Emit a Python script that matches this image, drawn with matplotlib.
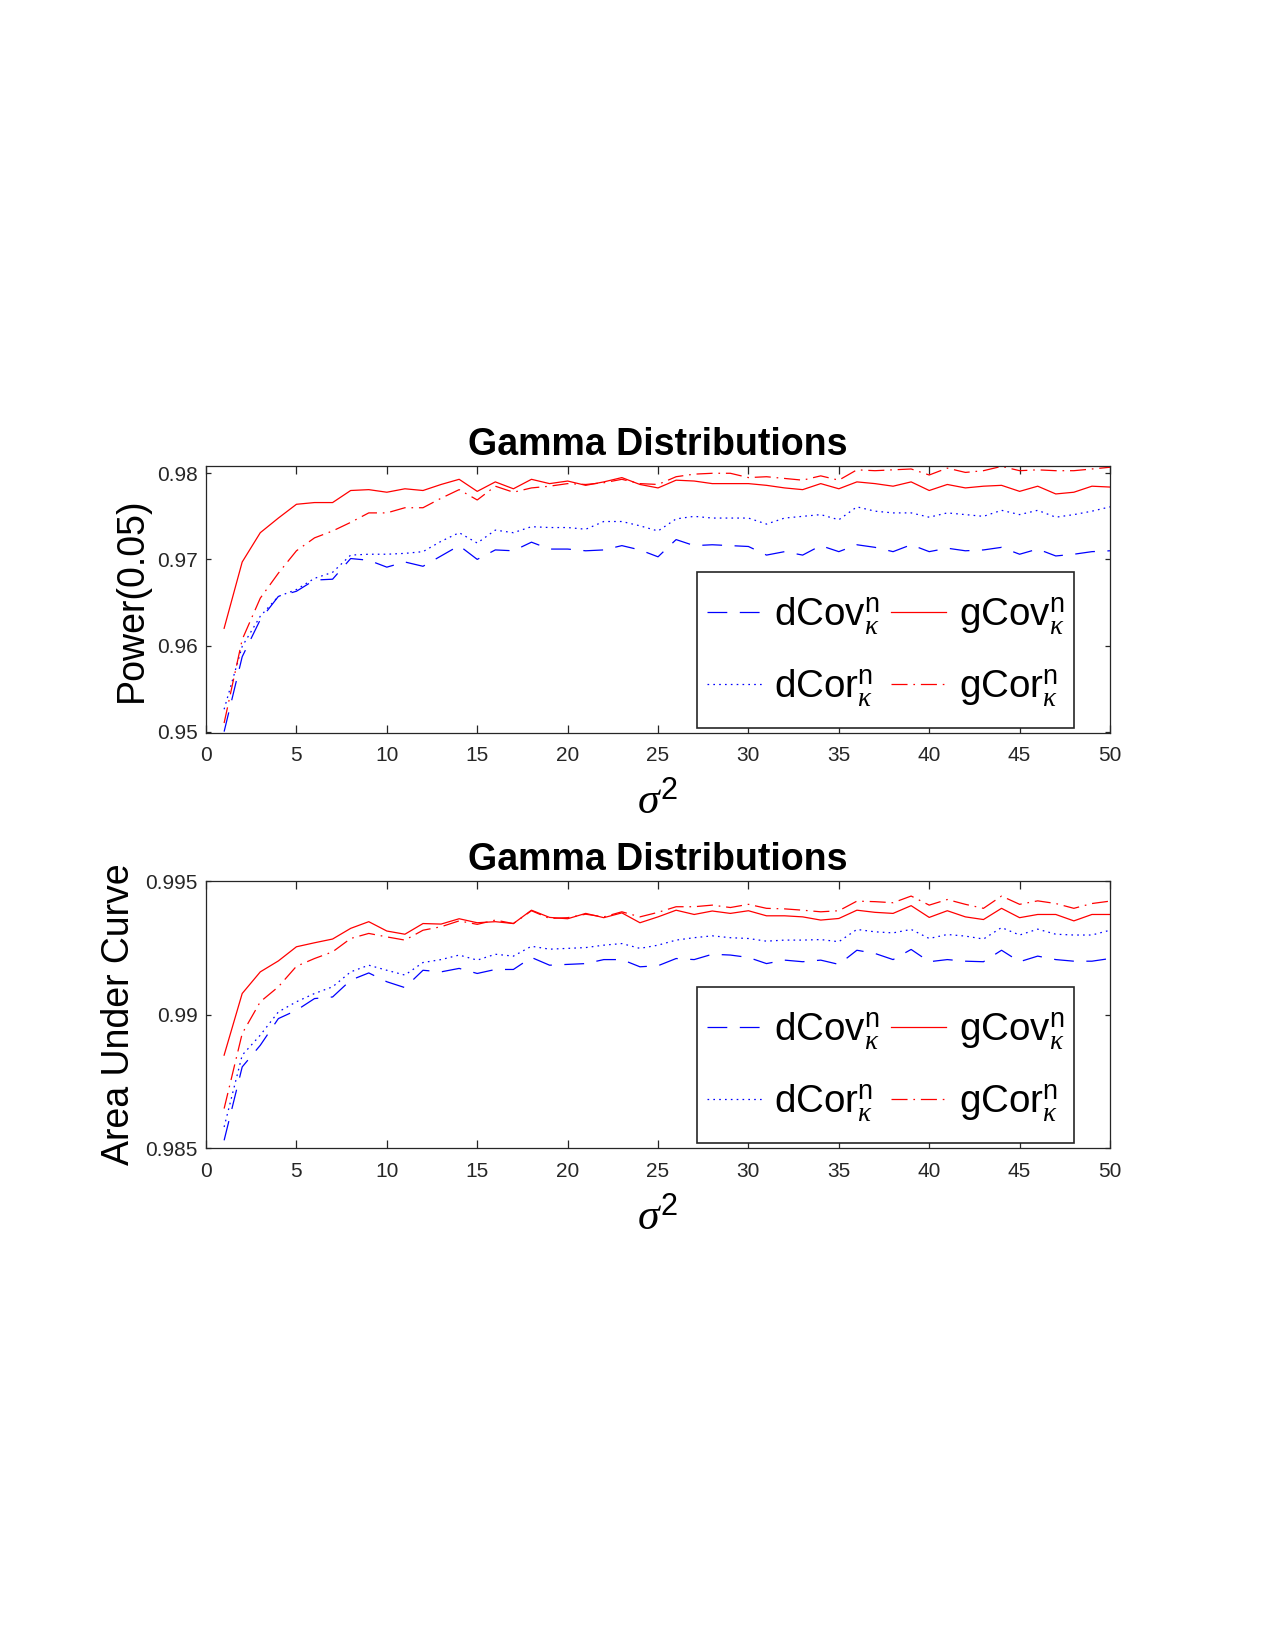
"""Gamma distributions: power and AUC vs sigma^2 for dCov/dCor/gCov/gCor."""
import matplotlib
matplotlib.use("Agg")
import matplotlib.pyplot as plt
import numpy as np
from matplotlib.legend_handler import HandlerLine2D
from matplotlib.lines import Line2D

plt.rcParams["font.family"] = ["Liberation Sans", "DejaVu Sans"]
plt.rcParams["mathtext.fontset"] = "custom"
plt.rcParams["mathtext.rm"] = "Liberation Sans"
plt.rcParams["mathtext.it"] = "Liberation Serif:italic"
plt.rcParams["lines.scale_dashes"] = False

sigma2 = list(range(1, 51))

# Power(0.05)
dcov_pow = [0.9500, 0.9587, 0.9630, 0.9657, 0.9663, 0.9676, 0.9677, 0.9701, 0.9699, 0.9691,
            0.9697, 0.9692, 0.9704, 0.9716, 0.9700, 0.9711, 0.9710, 0.9720, 0.9712, 0.9712,
            0.9710, 0.9711, 0.9716, 0.9711, 0.9703, 0.9723, 0.9716, 0.9717, 0.9716, 0.9715,
            0.9705, 0.9709, 0.9705, 0.9716, 0.9709, 0.9717, 0.9714, 0.9709, 0.9717, 0.9709,
            0.9713, 0.9710, 0.9711, 0.9714, 0.9706, 0.9712, 0.9704, 0.9706, 0.9709, 0.9710]
dcor_pow = [0.9526, 0.9599, 0.9634, 0.9657, 0.9665, 0.9678, 0.9685, 0.9705, 0.9706, 0.9706,
            0.9707, 0.9709, 0.9721, 0.9731, 0.9719, 0.9734, 0.9731, 0.9738, 0.9737, 0.9737,
            0.9735, 0.9744, 0.9744, 0.9739, 0.9733, 0.9747, 0.9750, 0.9748, 0.9748, 0.9748,
            0.9741, 0.9748, 0.9750, 0.9752, 0.9746, 0.9761, 0.9756, 0.9754, 0.9754, 0.9749,
            0.9754, 0.9752, 0.9750, 0.9757, 0.9752, 0.9757, 0.9749, 0.9752, 0.9756, 0.9761]
gcov_pow = [0.9620, 0.9697, 0.9731, 0.9748, 0.9764, 0.9766, 0.9766, 0.9780, 0.9781, 0.9778,
            0.9782, 0.9780, 0.9787, 0.9793, 0.9779, 0.9790, 0.9782, 0.9793, 0.9788, 0.9791,
            0.9786, 0.9790, 0.9795, 0.9787, 0.9783, 0.9792, 0.9791, 0.9788, 0.9788, 0.9788,
            0.9786, 0.9783, 0.9781, 0.9788, 0.9782, 0.9790, 0.9788, 0.9785, 0.9790, 0.9780,
            0.9787, 0.9783, 0.9785, 0.9786, 0.9779, 0.9785, 0.9776, 0.9778, 0.9785, 0.9784]
gcor_pow = [0.9510, 0.9607, 0.9655, 0.9684, 0.9710, 0.9725, 0.9733, 0.9743, 0.9754, 0.9754,
            0.9760, 0.9760, 0.9771, 0.9781, 0.9769, 0.9785, 0.9778, 0.9783, 0.9785, 0.9788,
            0.9787, 0.9789, 0.9793, 0.9788, 0.9787, 0.9796, 0.9799, 0.9800, 0.9800, 0.9795,
            0.9796, 0.9794, 0.9792, 0.9797, 0.9792, 0.9804, 0.9803, 0.9804, 0.9805, 0.9798,
            0.9806, 0.9801, 0.9803, 0.9808, 0.9803, 0.9804, 0.9803, 0.9803, 0.9805, 0.9807]

# Area under curve
dcov_auc = [0.98529, 0.98804, 0.98885, 0.98985, 0.99016, 0.99060, 0.99066, 0.99129, 0.99156, 0.99123,
            0.99101, 0.99166, 0.99160, 0.99173, 0.99154, 0.99169, 0.99169, 0.99214, 0.99185, 0.99188,
            0.99191, 0.99206, 0.99206, 0.99179, 0.99183, 0.99210, 0.99206, 0.99226, 0.99223, 0.99214,
            0.99191, 0.99204, 0.99198, 0.99204, 0.99188, 0.99241, 0.99229, 0.99206, 0.99244, 0.99198,
            0.99206, 0.99200, 0.99198, 0.99241, 0.99198, 0.99219, 0.99206, 0.99200, 0.99200, 0.99210]
dcor_auc = [0.98579, 0.98848, 0.98923, 0.99010, 0.99048, 0.99079, 0.99104, 0.99160, 0.99185, 0.99166,
            0.99148, 0.99195, 0.99206, 0.99223, 0.99204, 0.99226, 0.99219, 0.99256, 0.99245, 0.99248,
            0.99251, 0.99260, 0.99266, 0.99248, 0.99260, 0.99279, 0.99288, 0.99295, 0.99288, 0.99285,
            0.99275, 0.99279, 0.99279, 0.99281, 0.99273, 0.99319, 0.99310, 0.99306, 0.99319, 0.99285,
            0.99300, 0.99294, 0.99283, 0.99326, 0.99298, 0.99320, 0.99301, 0.99298, 0.99298, 0.99316]
gcov_auc = [0.98848, 0.99079, 0.99160, 0.99201, 0.99254, 0.99269, 0.99283, 0.99323, 0.99348, 0.99313,
            0.99301, 0.99341, 0.99339, 0.99359, 0.99344, 0.99348, 0.99341, 0.99391, 0.99364, 0.99359,
            0.99379, 0.99363, 0.99381, 0.99344, 0.99366, 0.99391, 0.99375, 0.99388, 0.99379, 0.99389,
            0.99370, 0.99370, 0.99366, 0.99354, 0.99360, 0.99391, 0.99383, 0.99379, 0.99408, 0.99364,
            0.99389, 0.99366, 0.99356, 0.99398, 0.99363, 0.99375, 0.99375, 0.99351, 0.99375, 0.99375]
gcor_auc = [0.98648, 0.98929, 0.99048, 0.99104, 0.99181, 0.99210, 0.99235, 0.99285, 0.99304, 0.99291,
            0.99279, 0.99316, 0.99329, 0.99351, 0.99338, 0.99354, 0.99341, 0.99389, 0.99360, 0.99363,
            0.99376, 0.99366, 0.99385, 0.99366, 0.99383, 0.99404, 0.99404, 0.99410, 0.99401, 0.99413,
            0.99398, 0.99396, 0.99391, 0.99385, 0.99389, 0.99425, 0.99423, 0.99419, 0.99444, 0.99410,
            0.99431, 0.99413, 0.99398, 0.99444, 0.99413, 0.99426, 0.99416, 0.99398, 0.99416, 0.99425]

x_ticks = [0, 5, 10, 15, 20, 25, 30, 35, 40, 45, 50]
pow_ticks = [0.95, 0.96, 0.97, 0.98]
pow_labels = ["0.95", "0.96", "0.97", "0.98"]
auc_ticks = [0.985, 0.99, 0.995]
auc_labels = ["0.985", "0.99", "0.995"]

labels = [r"$\mathrm{dCov}^{\mathrm{n}}_{\kappa}$", r"$\mathrm{dCor}^{\mathrm{n}}_{\kappa}$",
          r"$\mathrm{gCov}^{\mathrm{n}}_{\kappa}$", r"$\mathrm{gCor}^{\mathrm{n}}_{\kappa}$"]
styles = [("#0000ff", (0, (9.5, 6))), ("#0000ff", (0, (0.8, 2.0))),
          ("#ff0000", "-"), ("#ff0000", (0, (7.7, 2.8, 0.8, 2.8)))]

AX_EDGE = "#262626"


class LoweredLine(HandlerLine2D):
    """Legend line sitting a bit lower, level with the middle of the label."""

    def create_artists(self, legend, orig_handle, xdescent, ydescent,
                       width, height, fontsize, trans):
        arts = super().create_artists(legend, orig_handle, xdescent, ydescent,
                                      width, height, fontsize, trans)
        for a in arts:
            a.set_ydata(np.asarray(a.get_ydata()) - 4.0)
        return arts


def draw_panel(ax, series, yticks, ylabels, ylim, ylabel, labelpad):
    for vals, lab, (col, ls) in zip(series, labels, styles):
        ax.plot(sigma2, vals, color=col, linestyle=ls, linewidth=0.6, label=lab)
    ax.set_xlim(0, 50)
    ax.set_ylim(*ylim)
    ax.set_xticks(x_ticks)
    ax.set_yticks(yticks)
    ax.set_yticklabels(ylabels)
    ax.tick_params(direction="in", top=True, right=True, labelsize=10,
                   colors=AX_EDGE, width=0.6)
    ax.tick_params(axis="x", length=4, pad=6.5)
    ax.tick_params(axis="y", length=2.5, pad=4)
    for sp in ax.spines.values():
        sp.set_color(AX_EDGE)
        sp.set_linewidth(0.6)
    ax.set_title("Gamma Distributions", fontsize=18, fontweight="bold", pad=5.5)
    ax.set_ylabel(ylabel, fontsize=18, labelpad=labelpad)
    ax.set_xlabel(r"$\sigma^{\mathrm{2}}$", fontsize=21, labelpad=8)
    leg = ax.legend(ncol=2, loc="lower right", bbox_to_anchor=(0.96, 0.0187),
                    fontsize=18.5, handlelength=1.42, handleheight=2.2,
                    handletextpad=0.33, columnspacing=0.3, borderpad=0.25,
                    labelspacing=0.2, fancybox=False, framealpha=1,
                    edgecolor=AX_EDGE, borderaxespad=0,
                    handler_map={Line2D: LoweredLine()})
    leg.get_frame().set_linewidth(0.8)


fig = plt.figure(figsize=(8.5, 11), dpi=150)
ax1 = fig.add_axes([0.1616, 0.5558, 0.7090, 0.1618])
ax2 = fig.add_axes([0.1616, 0.3042, 0.7090, 0.1618])

draw_panel(ax1, [dcov_pow, dcor_pow, gcov_pow, gcor_pow], pow_ticks, pow_labels,
           (0.94985, 0.98085), "Power(0.05)", 3.5)
draw_panel(ax2, [dcov_auc, dcor_auc, gcov_auc, gcor_auc], auc_ticks, auc_labels,
           (0.985, 0.995), "Area Under Curve", 4)

fig.savefig("out.png", dpi=150, facecolor="white")
